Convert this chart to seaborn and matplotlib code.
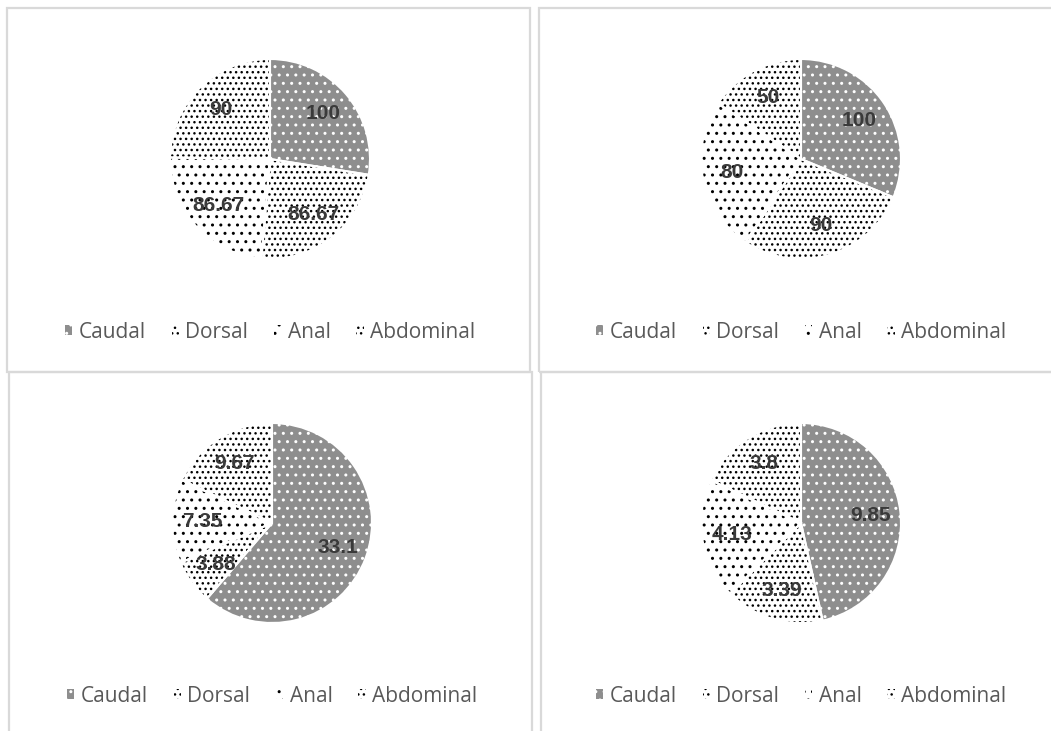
import matplotlib
matplotlib.use("Agg")
import matplotlib.pyplot as plt
from matplotlib.patches import Rectangle
import seaborn as sns

sns.set_theme(style="white")
plt.rcParams["font.family"] = ["Open Sans", "DejaVu Sans"]
plt.rcParams["hatch.linewidth"] = 1.0

# fin categories (same order in every panel, clockwise from 12 o'clock)
fins = ["Caudal", "Dorsal", "Anal", "Abdominal"]

# values of the four panels
top_left = [100, 86.67, 86.67, 90]
top_right = [100, 90, 80, 50]
bottom_left = [33.1, 3.88, 7.35, 9.67]
bottom_right = [9.85, 3.39, 4.13, 3.8]

# look of each slice (Excel-like pattern fills)
faces = ["#8e8e8e", "white", "white", "white"]
hatch_cols = ["white", "black", "black", "black"]
hatches = ["..", "...", "..", "..."]

W, H = 1051, 731
fig = plt.figure(figsize=(W / 100, H / 100), dpi=100)

# panel frames in pixels: x0, y0 (top), x1, y1 (bottom)
frames = [(7, 8, 530, 372), (539, 8, 1060, 372), (9, 372, 532, 745), (541, 372, 1060, 745)]
for x0, y0, x1, y1 in frames:
    fig.patches.append(Rectangle((x0 / W, 1 - y1 / H), (x1 - x0) / W, (y1 - y0) / H,
                                 transform=fig.transFigure, fill=False,
                                 edgecolor="#d9d9d9", linewidth=1.6))

# pie centres in pixels, radius = 100 px
centres = [(270, 159), (801, 159), (272, 523), (801, 523)]
panels = [top_left, top_right, bottom_left, bottom_right]

for (cx, cy), vals in zip(centres, panels):
    ax = fig.add_axes([(cx - 150) / W, (H - cy - 150) / H, 300 / W, 300 / H])
    total = sum(vals)
    wedges, _, autotexts = ax.pie(
        vals, startangle=90, counterclock=False, radius=1,
        colors=faces, wedgeprops=dict(linewidth=0),
        autopct=lambda p, t=total: f"{round(p * t / 100, 2):g}",
        pctdistance=0.7,
        textprops=dict(fontsize=15, fontweight="bold", color="#3a3a3a",
                       family=["Liberation Sans", "DejaVu Sans"]))
    for w, hc, h in zip(wedges, hatch_cols, hatches):
        w.set_edgecolor(hc)
        w.set_hatch(h)
    # white separators between slices
    ax.pie(vals, startangle=90, counterclock=False, radius=1,
           colors=["none"] * 4,
           wedgeprops=dict(linewidth=1.5, edgecolor="white", fill=False))
    for t in autotexts:
        t.set_zorder(5)
    ax.set_xlim(-1.5, 1.5)
    ax.set_ylim(-1.5, 1.5)
    ax.set_aspect("equal")
    ax.axis("off")
    leg = ax.legend(wedges, fins, loc="center", bbox_to_anchor=(0.5, -0.077),
                    ncol=4, frameon=False, fontsize=15, handlelength=0.35,
                    handleheight=0.35, handletextpad=0.3, columnspacing=1.25,
                    labelcolor="#595959")
    leg.set_clip_on(False)

fig.savefig("out.png", dpi=100)
